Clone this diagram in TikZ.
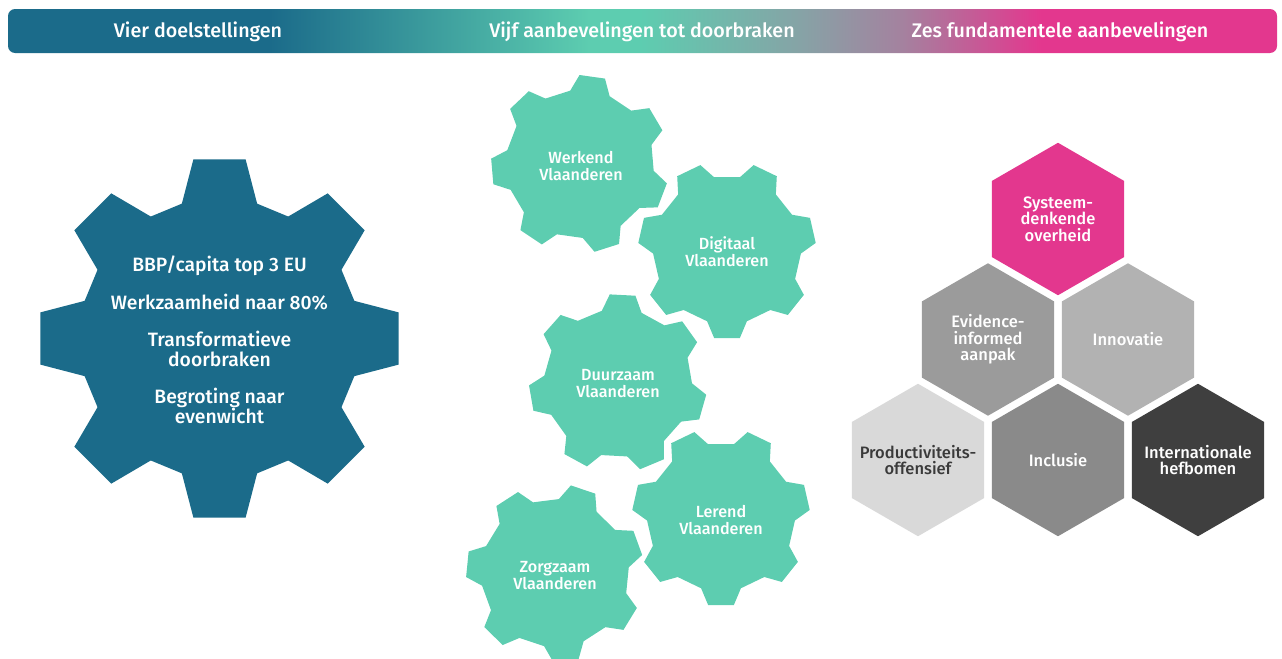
\documentclass[tikz,border=0pt]{standalone}
\usepackage{fontspec}
\setmainfont{Fira Sans}[BoldFont={Fira Sans Medium}]
\usepackage{tikz}
\usetikzlibrary{shapes.geometric, positioning, calc}

\definecolor{vlblue}{HTML}{1B6B8A}
\definecolor{vlteal}{HTML}{5DCDB0}
\definecolor{vlpink}{HTML}{E3378E}
\definecolor{bandgrey}{HTML}{86A3A6}
\definecolor{bandmauve}{HTML}{A4829F}
\definecolor{hexgrey}{HTML}{9B9B9B}
\definecolor{hexlight}{HTML}{B2B2B2}
\definecolor{hexpale}{HTML}{D9D9D9}
\definecolor{hexmid}{HTML}{8A8A8A}
\definecolor{hexdark}{HTML}{3F3F3F}
\definecolor{textdark}{HTML}{3A3A3A}

\pgfdeclarehorizontalshading{bandshade}{100bp}{color(0bp)=(vlblue); color(35.3bp)=(vlblue); color(47.9bp)=(vlteal); color(49.9bp)=(vlteal); color(56.2bp)=(bandgrey); color(60.2bp)=(bandmauve); color(65.7bp)=(vlpink); color(100bp)=(vlpink)}

\newcommand{\gearfill}[6]{%
  \fill[#6, shift={#1}] ({#5-15.6}:#4)
    \foreach \k in {1,...,#2} {
      -- ({#5+(\k-1)*360/#2-15.6}:#4) -- ({#5+(\k-1)*360/#2-8.3}:#3)
      -- ({#5+(\k-1)*360/#2+8.3}:#3) -- ({#5+(\k-1)*360/#2+15.6}:#4)
    } -- cycle;}

\begin{document}
\begin{tikzpicture}[x=0.02cm, y=-0.02cm,
    band/.style={anchor=base, text=white, font=\fontsize{11.2}{12}\selectfont\bfseries},
    goal/.style={align=center, text=white, font=\fontsize{11}{11.34}\selectfont\bfseries},
    cogtext/.style={align=center, text=white, font=\fontsize{9.2}{9.7}\selectfont\bfseries},
    hexa/.style={regular polygon, regular polygon sides=6, shape border rotate=30,
      minimum size=3.05cm, inner sep=0pt},
    hextext/.style={align=center, text=white, font=\fontsize{9.4}{9.5}\selectfont\bfseries}]
    \useasboundingbox (0,0) rectangle (1282,659);

    \shade[shading=bandshade, rounded corners=4pt] (8,9) rectangle (1277,53);
    \node[band] (vier) at (198,37.5) {Vier doelstellingen};
    \node[band] (vijf) at (642,37.5) {Vijf aanbevelingen tot doorbraken};
    \node[band] (zes) at (1060,37.5) {Zes fundamentele aanbevelingen};

    \gearfill{(219.5,338.5)}{8}{181}{140}{0}{vlblue}
    \node[goal] (goals) at (219.5,340) {BBP/capita top 3 EU\\[9.9pt]
      Werkzaamheid naar 80\%\\[9.9pt]
      Transformatieve\\doorbraken\\[9.9pt]
      Begroting naar\\evenwicht};

    \gearfill{(580,164)}{7}{89}{74}{-82}{vlteal}
    \gearfill{(727,250)}{7}{89}{74}{90}{vlteal}
    \gearfill{(618,383)}{7}{89}{74}{-87}{vlteal}
    \gearfill{(721,517)}{7}{89}{74}{90}{vlteal}
    \gearfill{(555,573)}{7}{89}{74}{-20}{vlteal}
    \node[cogtext] (werkend) at (581,166) {Werkend\\Vlaanderen};
    \node[cogtext] (digitaal) at (727,252) {Digitaal\\Vlaanderen};
    \node[cogtext] (duurzaam) at (618,384) {Duurzaam\\Vlaanderen};
    \node[cogtext] (lerend) at (721,520) {Lerend\\Vlaanderen};
    \node[cogtext] (zorgzaam) at (555,576) {Zorgzaam\\Vlaanderen};

    \node[hexa, fill=vlpink] (sys) at (1058,219) {};
    \node[hexa, fill=hexgrey] (evid) at ([shift={(-70,120.5)}]sys.center) {};
    \node[hexa, fill=hexlight] (innov) at ([shift={(70,120.5)}]sys.center) {};
    \node[hexa, fill=hexpale] (prod) at ([shift={(-70,120.5)}]evid.center) {};
    \node[hexa, fill=hexmid] (incl) at ([shift={(70,120.5)}]evid.center) {};
    \node[hexa, fill=hexdark] (intl) at ([shift={(70,120.5)}]innov.center) {};

    \node[hextext] (syst) at (sys.center) {Systeem-\\denkende\\overheid};
    \node[hextext] (evidt) at (evid.center) {Evidence-\\informed\\aanpak};
    \node[hextext] (innovt) at (innov.center) {Innovatie};
    \node[hextext, text=textdark] (prodt) at (prod.center) {Productiviteits-\\offensief};
    \node[hextext] (inclt) at (incl.center) {Inclusie};
    \node[hextext] (intlt) at (intl.center) {Internationale\\hefbomen};
\end{tikzpicture}
\end{document}
